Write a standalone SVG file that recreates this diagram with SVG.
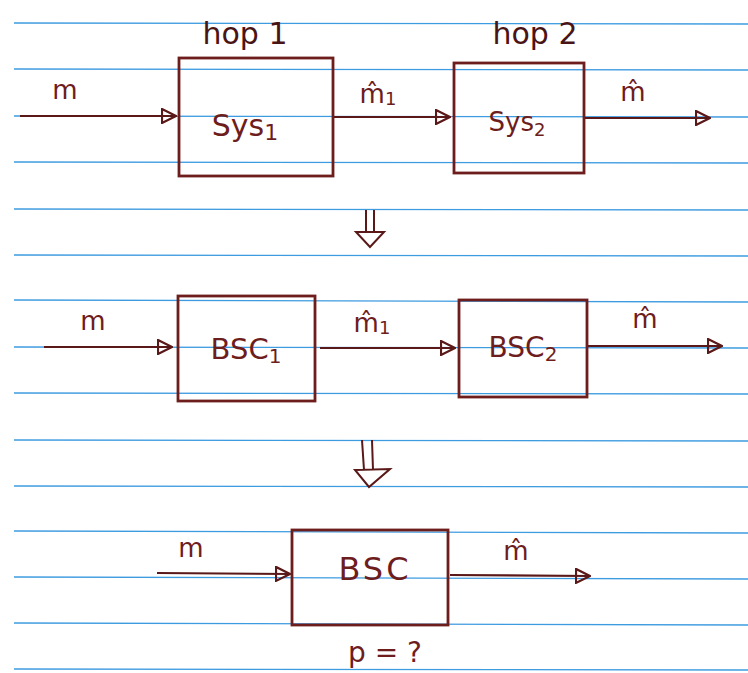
<svg xmlns="http://www.w3.org/2000/svg" width="748" height="673" viewBox="0 0 748 673">
<style>
.rule{stroke:#3d9be0;stroke-width:1.3;}
.box{fill:none;stroke:#6e1d1d;stroke-width:2.8;}
.wire{fill:none;stroke:#5a1818;stroke-width:2.2;}
.big{fill:none;stroke:#5a1818;stroke-width:2;}
text{font-family:"DejaVu Sans","Liberation Sans",sans-serif;fill:#6e1d1d;}
.lbl{font-size:26px;}
.sm{font-size:18px;}
.hop{font-size:30px;fill:#4a1414;}
</style>
<defs>
<marker id="ah" viewBox="0 0 16 16" refX="15" refY="8" markerWidth="16" markerHeight="16" markerUnits="userSpaceOnUse" orient="auto">
<path d="M1,1 L15,8 L1,15 Z" fill="none" stroke="#5a1818" stroke-width="2.2"/>
</marker>
</defs>
<rect width="748" height="673" fill="#fff"/>
<g id="paper">
<line class="rule" x1="14" y1="23" x2="748" y2="24"/>
<line class="rule" x1="14" y1="69" x2="748" y2="70"/>
<line class="rule" x1="14" y1="116" x2="748" y2="117"/>
<line class="rule" x1="14" y1="162" x2="748" y2="163"/>
<line class="rule" x1="14" y1="209" x2="748" y2="210"/>
<line class="rule" x1="14" y1="255" x2="748" y2="256"/>
<line class="rule" x1="14" y1="300" x2="748" y2="302"/>
<line class="rule" x1="14" y1="347" x2="748" y2="348"/>
<line class="rule" x1="14" y1="393" x2="748" y2="394"/>
<line class="rule" x1="14" y1="440" x2="748" y2="441"/>
<line class="rule" x1="14" y1="486" x2="748" y2="487"/>
<line class="rule" x1="14" y1="531" x2="748" y2="533"/>
<line class="rule" x1="14" y1="577" x2="748" y2="579"/>
<line class="rule" x1="14" y1="623" x2="748" y2="625"/>
<line class="rule" x1="14" y1="669" x2="748" y2="670"/>
</g>
<g id="connectors">
<line class="wire" x1="20" y1="116" x2="176" y2="116" marker-end="url(#ah)"/>
<line class="wire" x1="333" y1="117" x2="450" y2="117" marker-end="url(#ah)"/>
<line class="wire" x1="585" y1="118" x2="710" y2="118" marker-end="url(#ah)"/>
<line class="wire" x1="44" y1="347" x2="172" y2="347" marker-end="url(#ah)"/>
<line class="wire" x1="320" y1="348" x2="455" y2="348" marker-end="url(#ah)"/>
<line class="wire" x1="587" y1="346" x2="722" y2="346" marker-end="url(#ah)"/>
<line class="wire" x1="157" y1="573" x2="290" y2="574" marker-end="url(#ah)"/>
<line class="wire" x1="450" y1="575" x2="590" y2="576" marker-end="url(#ah)"/>
<g id="down1">
<path class="big" d="M366,210 L366,232 M374,210 L374,232 M356,232 L384,232 L370,247 Z"/>
</g>
<g id="down2">
<path class="big" d="M362,440 L364,470 M372,440 L373,470 M355,470 L390,469 L369,487 Z"/>
</g>
</g>
<g id="hop1"><text class="hop" x="245" y="44" text-anchor="middle">hop 1</text></g>
<g id="hop2"><text class="hop" x="535" y="44" text-anchor="middle">hop 2</text></g>
<g id="sys1">
<rect class="box" x="179" y="58" width="154" height="118"/>
<text x="245" y="136" text-anchor="middle" style="font-size:30px">Sys<tspan dy="4" style="font-size:22px">1</tspan></text>
</g>
<g id="sys2">
<rect class="box" x="454" y="63" width="130" height="110"/>
<text x="517" y="131" text-anchor="middle" style="font-size:26px">Sys<tspan dy="5" style="font-size:18px">2</tspan></text>
</g>
<g id="bsc1">
<rect class="box" x="178" y="296" width="137" height="105"/>
<text x="246" y="359" text-anchor="middle" style="font-size:29px">BSC<tspan dy="4" style="font-size:20px">1</tspan></text>
</g>
<g id="bsc2">
<rect class="box" x="459" y="300" width="128" height="97"/>
<text x="523" y="357" text-anchor="middle" style="font-size:28px">BSC<tspan dy="4" style="font-size:20px">2</tspan></text>
</g>
<g id="bsc">
<rect class="box" x="292" y="530" width="156" height="95"/>
<text x="375" y="580" text-anchor="middle" style="font-size:32px;letter-spacing:3px">BSC</text>
</g>
<g id="labels">
<text class="lbl" x="65" y="99" text-anchor="middle">m</text>
<text class="lbl" x="378" y="103" text-anchor="middle">m̂<tspan class="sm" dy="2">1</tspan></text>
<text class="lbl" x="633" y="101" text-anchor="middle">m̂</text>
<text class="lbl" x="93" y="330" text-anchor="middle">m</text>
<text class="lbl" x="372" y="332" text-anchor="middle">m̂<tspan class="sm" dy="2">1</tspan></text>
<text class="lbl" x="645" y="328" text-anchor="middle">m̂</text>
<text class="lbl" x="191" y="557" text-anchor="middle">m</text>
<text class="lbl" x="516" y="560" text-anchor="middle">m̂</text>
<text x="385" y="662" text-anchor="middle" style="font-size:28px">p = ?</text>
</g>
</svg>
